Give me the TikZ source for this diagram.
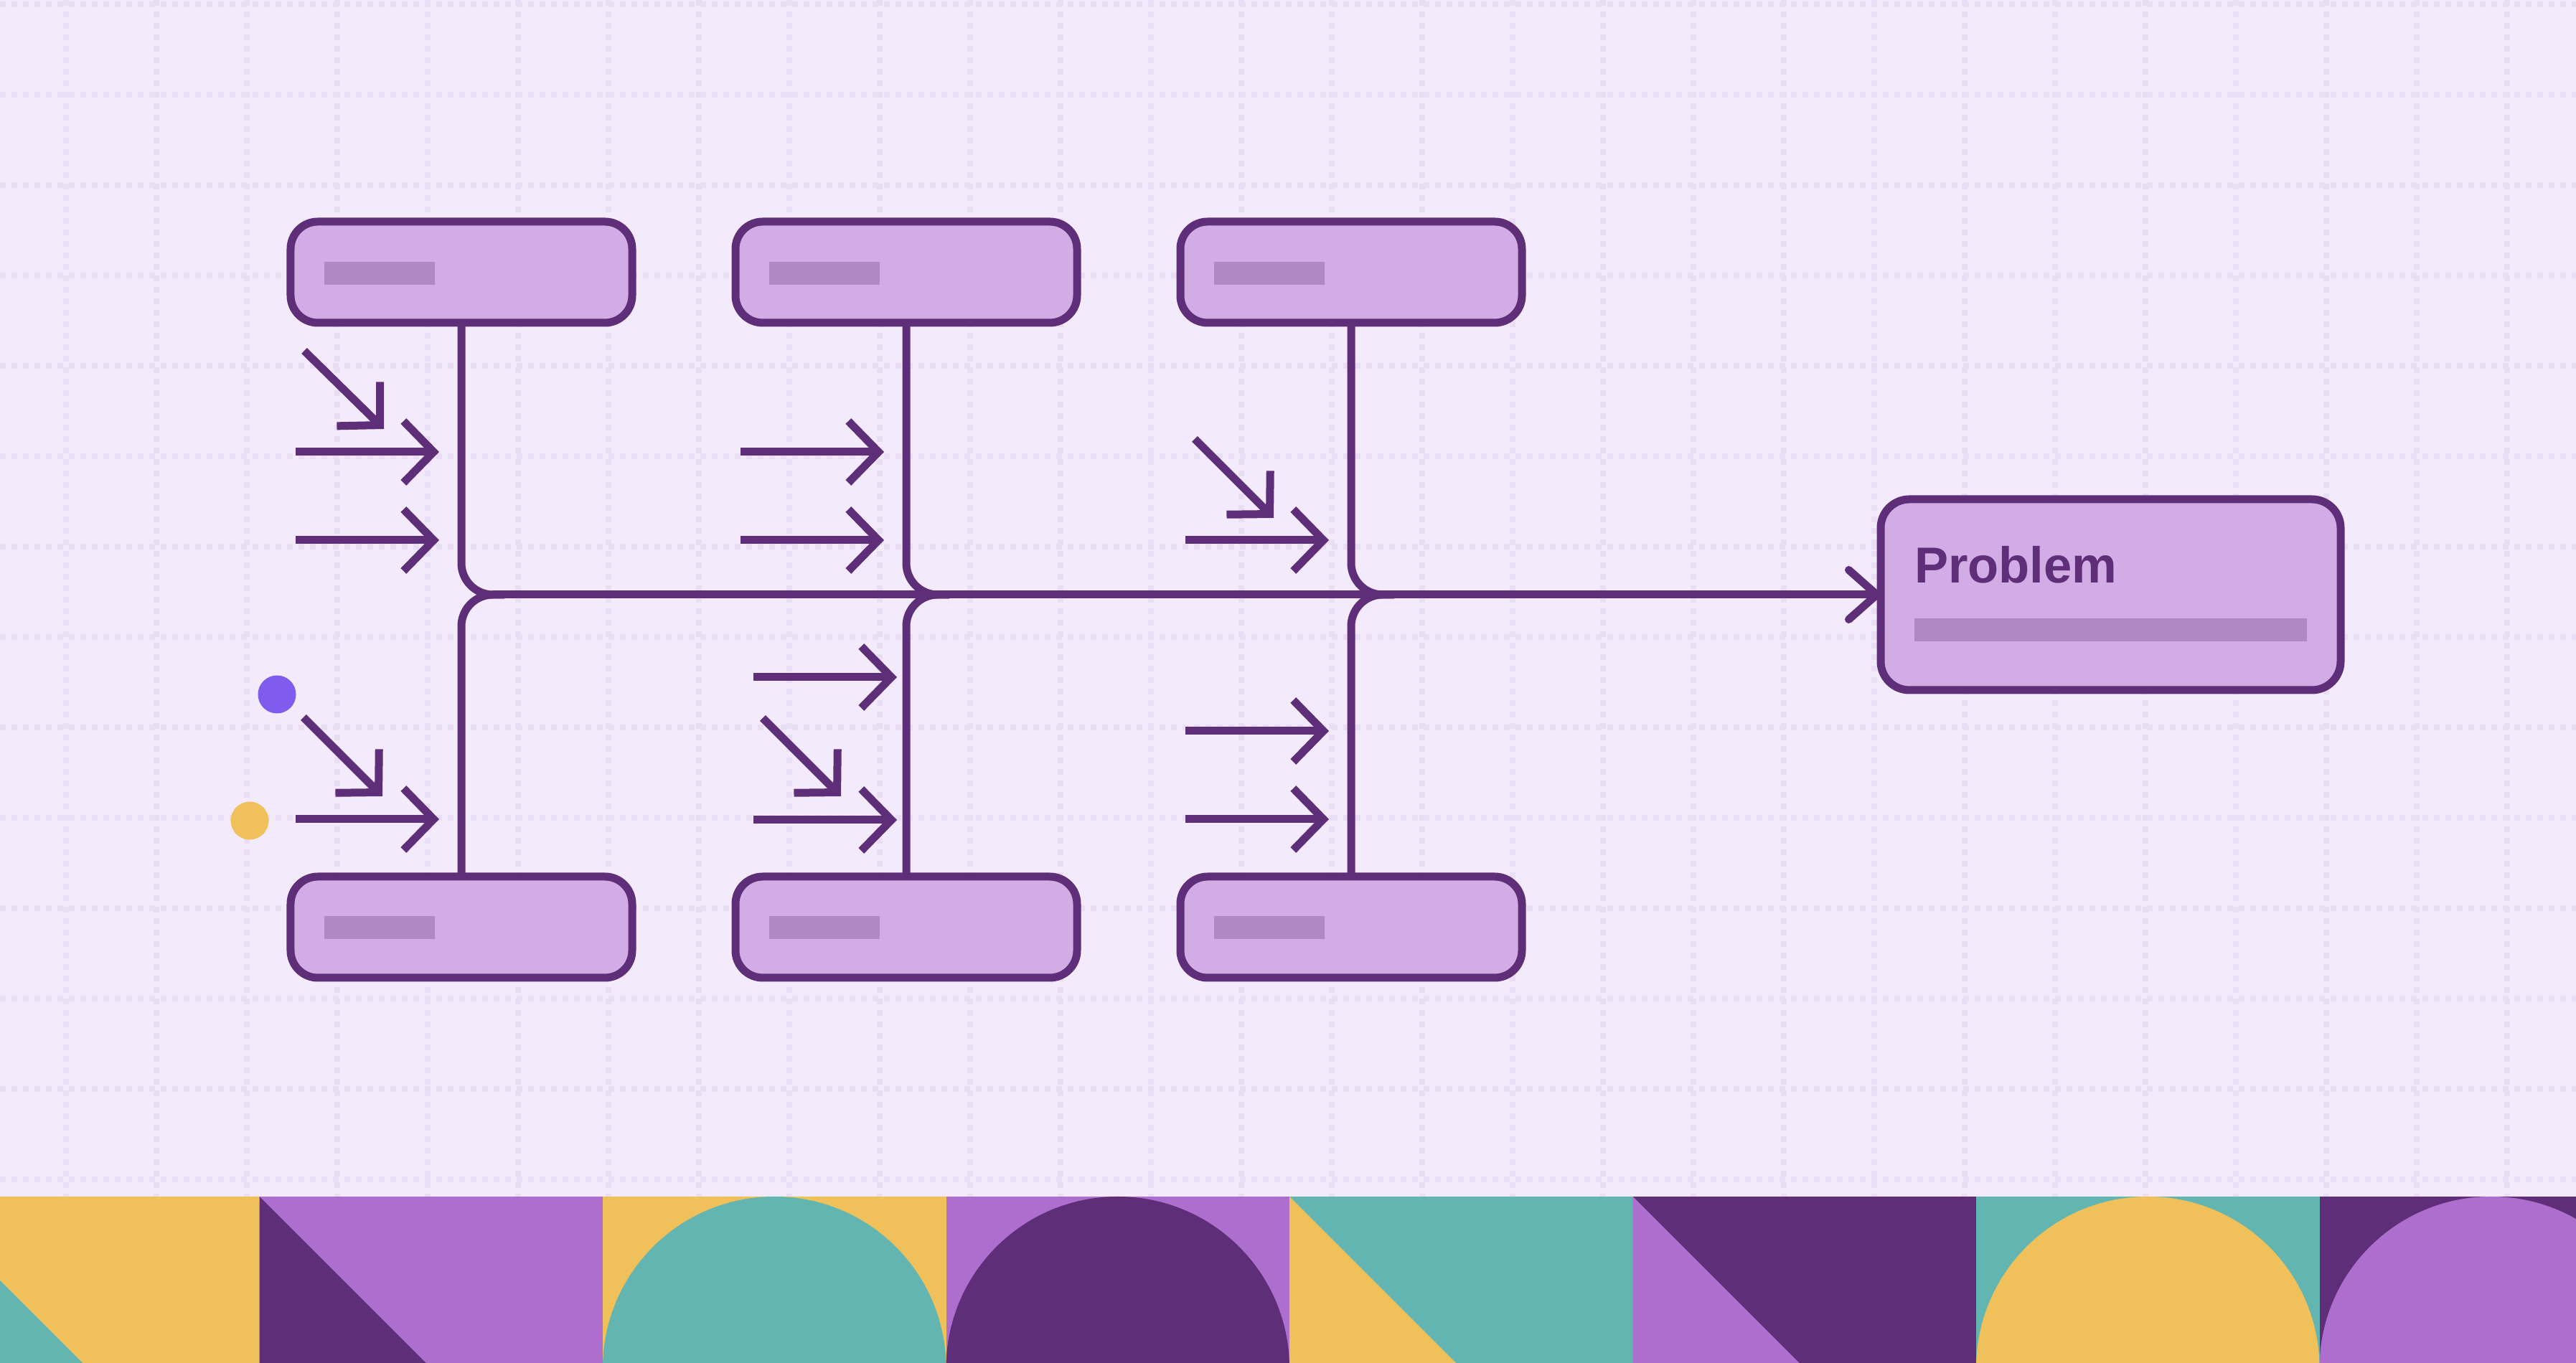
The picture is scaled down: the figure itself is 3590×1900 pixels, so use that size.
\documentclass[tikz,border=0pt]{standalone}
\usepackage{fontspec}
\setmainfont{Liberation Sans}
\usetikzlibrary{arrows.meta}
\definecolor{bg}{HTML}{F3EBFC}
\definecolor{gridc}{HTML}{EADEF4}
\definecolor{ink}{HTML}{5E2E78}
\definecolor{boxfill}{HTML}{D2ACE4}
\definecolor{barc}{HTML}{B088C4}
\definecolor{yel}{HTML}{F0C05A}
\definecolor{tealc}{HTML}{62B5B1}
\definecolor{lilac}{HTML}{AE6ECE}
\definecolor{dotpurple}{HTML}{7F5CEE}
\tikzset{
  catbox/.style={draw=ink, fill=boxfill, line width=2.2pt, rounded corners=7.6pt,
    minimum width=95.2pt, minimum height=28.2pt, inner sep=0pt, outer sep=0pt},
  probbox/.style={catbox, rounded corners=8pt, minimum width=128.2pt, minimum height=53.2pt},
  phbar/.style={fill=barc, inner sep=0pt, outer sep=0pt, minimum height=6.4pt},
  ln/.style={draw=ink, line width=2.2pt},
  cause/.style={ln, -{Straight Barb[length=8.4pt, width=17.2pt]}},
  bone/.style={ln, rounded corners=8.8pt},
  headline/.style={ln, -{Straight Barb[length=7.8pt, width=13.8pt, round]}},
  gridline/.style={draw=gridc, line width=1.6pt, dash pattern=on 1.6pt off 1.6pt},
  dot/.style={circle, inner sep=0pt, minimum size=10.6pt},
}
\begin{document}
\begin{tikzpicture}[x=0.2pt, y=-0.2pt]
\useasboundingbox (0,0) rectangle (3590,1900);
\fill[bg] (0,0) rectangle (3590,1900);
% grid
\foreach \i in {0,...,27} \draw[gridline] ({92+126*\i},0) -- ({92+126*\i},1668);
\foreach \j in {0,...,13} \draw[gridline] (0,{6+126*\j}) -- (3590,{6+126*\j});
% bottom band
\begin{scope}
\clip (0,1668) rectangle (3590,1900);
\foreach \k/\bgc/\fgc/\kind in {0/yel/tealc/t, 1/lilac/ink/t, 2/yel/tealc/d, 3/lilac/ink/d, 4/tealc/yel/t, 5/ink/lilac/t, 6/tealc/yel/d, 7/ink/lilac/d} {
  \pgfmathsetmacro\xo{-117+478.5*\k}
  \fill[\bgc] (\xo,1668) rectangle ({\xo+479.5},1900);
  \if\kind t
    \fill[\fgc] (\xo,1668) -- ({\xo+478.5},{1668+478.5}) -- (\xo,{1668+478.5}) -- cycle;
  \else
    \fill[\fgc] ({\xo+239.25},{1668+239.25}) circle[radius=239.25];
  \fi
}
\end{scope}
% category boxes
\node[catbox] (tb1) at (643,379.5) {};
\node[catbox] (tb2) at (1263,379.5) {};
\node[catbox] (tb3) at (1883,379.5) {};
\node[catbox] (bb1) at (643,1292.5) {};
\node[catbox] (bb2) at (1263,1292.5) {};
\node[catbox] (bb3) at (1883,1292.5) {};
\foreach \n/\x/\y in {tbar1/529/381, tbar2/1149/381, tbar3/1769/381, bbar1/529/1293.5, bbar2/1149/1293.5, bbar3/1769/1293.5}
  \node[phbar, minimum width=30.8pt] (\n) at (\x,\y) {};
% problem box
\node[probbox] (prob) at (2941.5,829) {};
\node[phbar, minimum width=109.5pt] (pbar) at (2941.25,878) {};
\node[anchor=base west, inner sep=0pt, text=ink, font=\fontsize{14.1pt}{16pt}\selectfont\bfseries] (ptext) at (2667,812.7) {Problem};
% spine junctions
\coordinate (j1) at (643,829);
\coordinate (j2) at (1263,829);
\coordinate (j3) at (1883,829);
\foreach \b/\j in {tb1/j1, bb1/j1, tb2/j2, bb2/j2, tb3/j3, bb3/j3}
  \draw[bone] (\b) -- (\j) -- ([xshift=12pt]\j);
\coordinate (m0) at (687,829);
\draw[headline] (m0) -- (prob.west);
% cause arrows
\foreach \n/\sx/\sy/\tx/\ty in {
  a1/412/630/612/630, a2/412/753/612/753, a3/424/489/535/598,
  a4/412/1142/612/1142, a5/423/1000/533/1110,
  a6/1032/630/1232/630, a7/1032/753/1232/753,
  a8/1050/944/1250/944, a9/1050/1143/1250/1143, a10/1063/1001/1172/1110,
  a11/1652/753/1852/753, a12/1665/612/1775/722,
  a13/1652/1019/1852/1019, a14/1652/1142/1852/1142} {
  \coordinate (\n s) at (\sx,\sy);
  \coordinate (\n t) at (\tx,\ty);
  \draw[cause] (\n s) -- (\n t);
}
% dots
\node[dot, fill=dotpurple] (dotA) at (386,968) {};
\node[dot, fill=yel] (dotB) at (348,1144) {};
\end{tikzpicture}
\end{document}
